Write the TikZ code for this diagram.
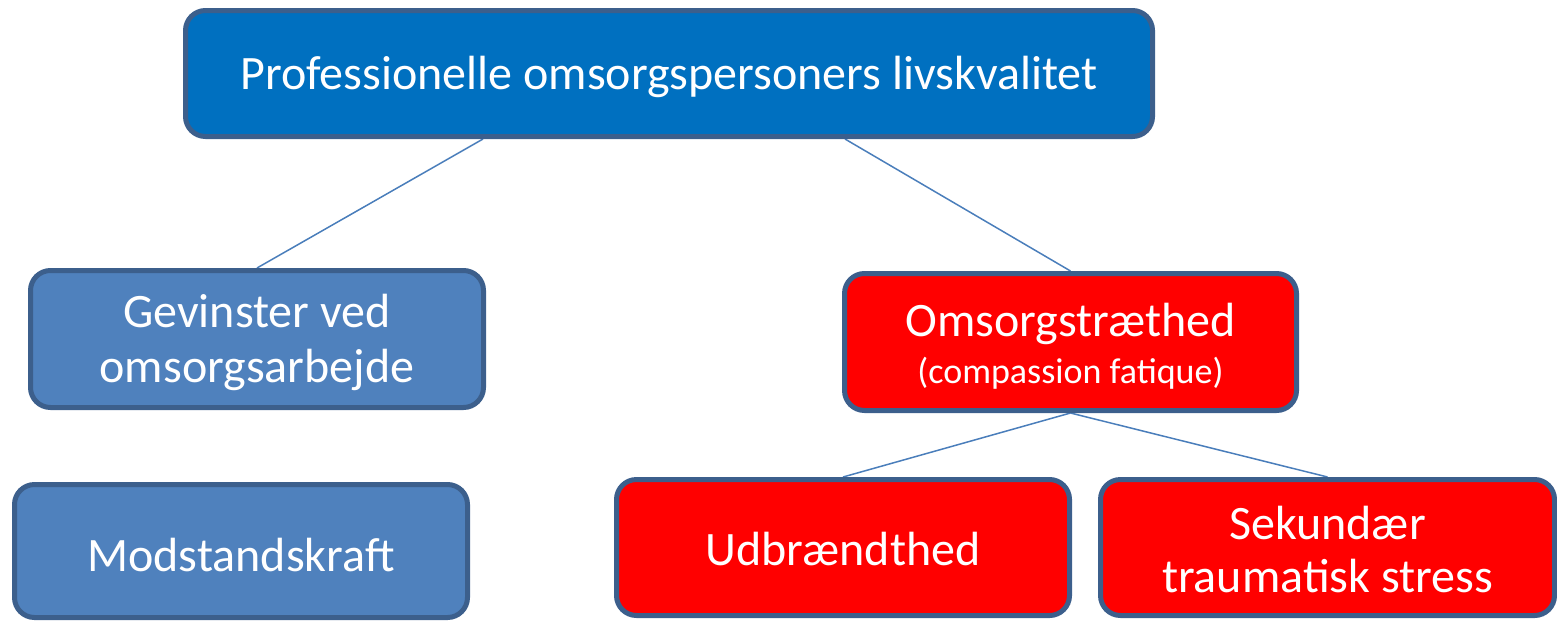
\documentclass[tikz,border=0pt]{standalone}
\usepackage{fontspec}
\setmainfont{Carlito}
\usetikzlibrary{backgrounds}
\definecolor{topblue}{HTML}{0070C0}
\definecolor{lightblue}{HTML}{4F81BD}
\definecolor{boxred}{HTML}{FF0000}
\definecolor{edge}{HTML}{3C5F8C}
\definecolor{linkc}{HTML}{4A7EBB}
\newcommand{\lowr}[2]{\raisebox{-#1}[\height][\depth]{#2}}
\tikzset{
  box/.style={draw=edge, line width=2.5pt, rounded corners=10pt, text=white,
    align=center, inner sep=0pt, font=\fontsize{24}{27.5}\selectfont},
  bluebox/.style={box, fill=lightblue},
  redbox/.style={box, fill=boxred},
  link/.style={draw=linkc, line width=0.75pt}
}
\begin{document}
\begin{tikzpicture}[x=0.5pt,y=-0.5pt]
\useasboundingbox (0,0) rectangle (1557,622);
\node[box, fill=topblue, minimum width=483.5pt, minimum height=63pt] (top) at (669,73.5) {\lowr{1.5pt}{Professionelle omsorgspersoners livskvalitet}};
\node[bluebox, minimum width=226.5pt, minimum height=68.5pt] (gev) at (257,339) {\lowr{1.5pt}{Gevinster ved}\\\lowr{1.5pt}{omsorgsarbejde}};
\node[bluebox, minimum width=226.5pt, minimum height=66.5pt] (mod) at (241,551) {\lowr{2pt}{Modstandskraft}};
\node[redbox, minimum width=226pt, minimum height=68.5pt] (oms) at (1070.5,342) {\lowr{2pt}{Omsorgstræthed}\\[-4pt]{\fontsize{18}{21}\selectfont\lowr{2pt}{(compassion fatique)}}};
\node[redbox, minimum width=226.5pt, minimum height=68pt] (udb) at (843,547.5) {\lowr{1pt}{Udbrændthed}};
\node[redbox, minimum width=227pt, minimum height=68pt] (sek) at (1327.5,547.5) {\lowr{1pt}{Sekundær}\\[-0.5pt]\lowr{0.5pt}{traumatisk stress}};
\coordinate (t1) at ([xshift=-93pt]top.south);
\coordinate (t2) at ([xshift=88pt]top.south);
\begin{scope}[on background layer]
\draw[link] (t1) -- (gev.north);
\draw[link] (t2) -- (oms.north);
\draw[link] (oms.south) -- (udb.north);
\draw[link] (oms.south) -- (sek.north);
\end{scope}
\end{tikzpicture}
\end{document}
